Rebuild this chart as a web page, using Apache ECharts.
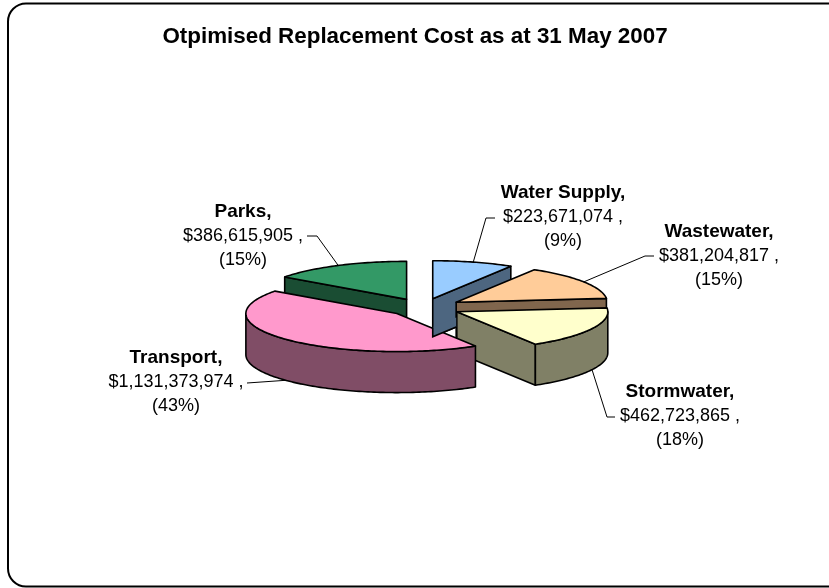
<!DOCTYPE html>
<html>
<head>
<meta charset="utf-8">
<title>Otpimised Replacement Cost</title>
<style>
html, body { margin: 0; padding: 0; background: #fff; }
#main { width: 829px; height: 588px; }
</style>
<script src="https://cdn.jsdelivr.net/npm/echarts@6/dist/echarts.min.js"></script>
</head>
<body>
<div id="main"></div>
<script>
const FONT = '"Liberation Sans", Arial, sans-serif';

const chartTitle = 'Otpimised Replacement Cost as at 31 May 2007';

// clockwise from 12 o'clock, same order as the source table
const categories = ['Water Supply', 'Wastewater', 'Stormwater', 'Transport', 'Parks'];
const costs = [223671074, 381204817, 462723865, 1131373974, 386615905];
const percentLabels = ['(9%)', '(15%)', '(18%)', '(43%)', '(15%)'];

const topColors = ['#99ccff', '#ffcc99', '#ffffcc', '#ff99cc', '#339966'];
const wallColors = ['#4d6680', '#80664d', '#808066', '#804d66', '#1a4d33'];

// label centre (px) and where its leader line bends (px)
const labelCentres = [[563, 217], [719, 256], [680, 416], [176, 382], [243, 236]];
const leaderElbows = [[[486, 218], [495, 218]], [[645, 256], [654, 256]], [[607, 417], [615, 417]], [[247, 383]], [[317, 236], [307, 236]]];

// thickness in y axis units, the back slice comes out a bit thinner
const sliceDepths = [1.0, 1.08, 1.08, 1.08, 1.08];
// how far each slice is pulled out, as a share of the radius
const sliceExplode = [0.24, 0.26, 0.25, 0.235, 0.24];

// slices overlap each other, so paint back to front
const drawOrder = [4, 0, 1, 2, 3];

const total = costs.reduce((a, b) => a + b, 0);
const startAngles = [];
let acc = 0;
costs.forEach(function (v) {
    startAngles.push(acc / total * Math.PI * 2);
    acc += v;
});

function formatMoney(v) {
    return '$' + v.toLocaleString('en-US') + ' ,';
}

function sliceCentre(i) {
    const mid = startAngles[i] + costs[i] / total * Math.PI;
    return [sliceExplode[i] * Math.sin(mid), sliceExplode[i] * Math.cos(mid)];
}

function renderSlice(params, api) {
    const i = api.value(0);
    const a0 = startAngles[i];
    const a1 = a0 + costs[i] / total * Math.PI * 2;
    const mid = (a0 + a1) / 2;
    const c = sliceCentre(i);
    const depth = sliceDepths[i];

    // the hidden axes carry the unit circle; their different px scales give the tilt
    const rim = function (a, drop) {
        return api.coord([c[0] + Math.sin(a), c[1] + Math.cos(a) - (drop || 0)]);
    };
    const apex = function (drop) {
        return api.coord([c[0], c[1] - (drop || 0)]);
    };
    const arc = function (from, to, drop) {
        const pts = [];
        const n = Math.max(2, Math.ceil((to - from) / 0.02));
        for (let k = 0; k <= n; k++) {
            pts.push(rim(from + (to - from) * k / n, drop));
        }
        return pts;
    };
    const solid = function (points, fill) {
        return {
            type: 'polygon',
            shape: { points: points },
            style: { fill: fill, stroke: '#000', lineWidth: 1.6, lineJoin: 'round' }
        };
    };

    const children = [];
    if (Math.sin(a0) < -1e-6) {
        children.push(solid([apex(), rim(a0), rim(a0, depth), apex(depth)], wallColors[i]));
    }
    if (Math.sin(a1) > 1e-6) {
        children.push(solid([apex(), rim(a1), rim(a1, depth), apex(depth)], wallColors[i]));
    }
    const from = Math.max(a0, Math.PI / 2);
    const to = Math.min(a1, Math.PI * 1.5);
    if (to > from) {
        children.push(solid(arc(from, to).concat(arc(from, to, depth).reverse()), wallColors[i]));
    }
    children.push(solid([apex()].concat(arc(a0, a1)), topColors[i]));

    // leader line starts on the rim at the slice's middle
    const front = Math.cos(mid) < 0;
    const leader = [rim(mid, front ? depth : 0)].concat(leaderElbows[i]);
    children.push({
        type: 'polyline',
        shape: { points: leader },
        style: { fill: 'none', stroke: '#000', lineWidth: 1 }
    });

    children.push({
        type: 'text',
        x: labelCentres[i][0],
        y: labelCentres[i][1],
        style: {
            text: '{name|' + categories[i] + ',}\n{v|' + formatMoney(costs[i]) + '}\n{v|' + percentLabels[i] + '}',
            align: 'center',
            verticalAlign: 'middle',
            rich: {
                name: { fontFamily: FONT, fontSize: 19, fontWeight: 'bold', lineHeight: 24, fill: '#000' },
                v: { fontFamily: FONT, fontSize: 18, lineHeight: 24, fill: '#000' }
            }
        }
    });

    return { type: 'group', children: children };
}

// the water wall's corner sits over the transport top, but the rest of it is under
// wastewater, so it cannot be one paint step: put the corner back on after transport
function renderWaterCorner(params, api) {
    const i = api.value(0);
    const next = api.value(3);
    const a1 = startAngles[i] + costs[i] / total * Math.PI * 2;
    const c = sliceCentre(i);
    const nextX = sliceCentre(next)[0];
    const t = (nextX - c[0]) / Math.sin(a1);
    const depth = sliceDepths[i];
    const tx = c[0] + t * Math.sin(a1);
    const ty = c[1] + t * Math.cos(a1);
    const p1 = api.coord([c[0], c[1] - depth * 0.75]);
    const p2 = api.coord([c[0], c[1] - depth]);
    const p3 = api.coord([tx, ty - depth]);
    const p4 = api.coord([tx, ty - depth * 0.75]);
    return {
        type: 'group',
        children: [{
            type: 'polygon',
            shape: { points: [p1, p2, p3, p4] },
            style: { fill: wallColors[i], stroke: 'none' }
        }, {
            type: 'polyline',
            shape: { points: [p1, p2, p3] },
            style: { fill: 'none', stroke: '#000', lineWidth: 1.6 }
        }]
    };
}

const myChart = echarts.init(document.getElementById('main'), null, { renderer: 'canvas' });

myChart.setOption({
    animation: false,
    backgroundColor: '#fff',
    title: {
        text: chartTitle,
        left: 410,
        top: 21,
        textAlign: 'center',
        textStyle: { fontFamily: FONT, fontSize: 22.4, fontWeight: 'bold', color: '#000' }
    },
    // 151 px per unit across, 38 px per unit down
    grid: { left: 121, top: 231.5, width: 604, height: 152 },
    xAxis: { type: 'value', min: -2, max: 2, show: false },
    yAxis: { type: 'value', min: -2, max: 2, show: false },
    graphic: [{
        type: 'rect',
        z: -1,
        shape: { x: 8, y: 3.5, width: 840, height: 583, r: 18 },
        style: { fill: '#fff', stroke: '#000', lineWidth: 2 }
    }],
    series: [{
        type: 'custom',
        coordinateSystem: 'cartesian2d',
        renderItem: renderSlice,
        encode: { x: 1, y: 2 },
        clip: false,
        data: drawOrder.map(function (i) { return [i, 0, 0]; })
    }, {
        type: 'custom',
        coordinateSystem: 'cartesian2d',
        renderItem: renderWaterCorner,
        encode: { x: 1, y: 2 },
        clip: false,
        data: [[0, 0, 0, 1]]
    }]
});

window.addEventListener('resize', function () {
    myChart.resize();
});
</script>
</body>
</html>
